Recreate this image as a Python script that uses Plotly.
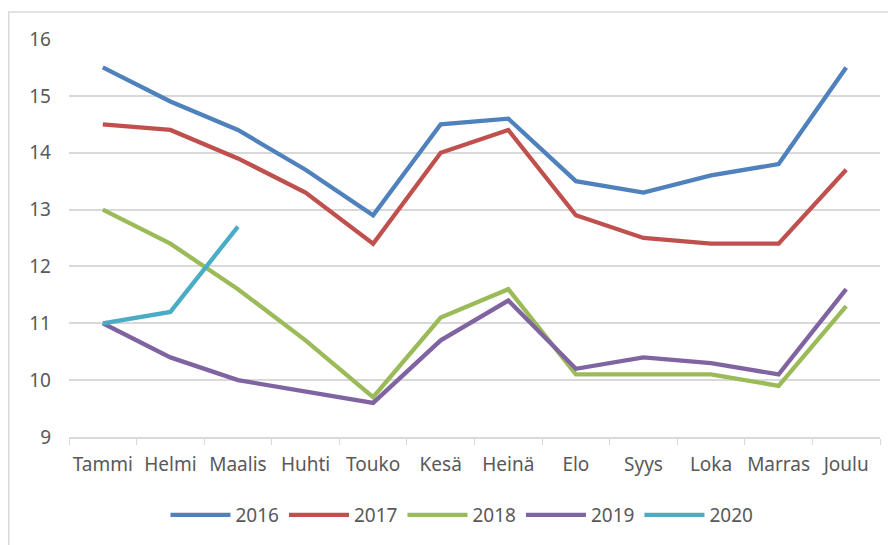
import plotly.graph_objects as go

months = ["Tammi", "Helmi", "Maalis", "Huhti", "Touko", "Kesä", "Heinä", "Elo", "Syys", "Loka", "Marras", "Joulu"]
y2016 = [15.5, 14.9, 14.4, 13.7, 12.9, 14.5, 14.6, 13.5, 13.3, 13.6, 13.8, 15.5]
y2017 = [14.5, 14.4, 13.9, 13.3, 12.4, 14.0, 14.4, 12.9, 12.5, 12.4, 12.4, 13.7]
y2018 = [13.0, 12.4, 11.6, 10.7, 9.7, 11.1, 11.6, 10.1, 10.1, 10.1, 9.9, 11.3]
y2019 = [11.0, 10.4, 10.0, 9.8, 9.6, 10.7, 11.4, 10.2, 10.4, 10.3, 10.1, 11.6]
y2020 = [11.0, 11.2, 12.7]

series = [
    ("2016", y2016, "#4F81BD"),
    ("2017", y2017, "#C0504D"),
    ("2018", y2018, "#9BBB59"),
    ("2019", y2019, "#8064A2"),
    ("2020", y2020, "#4BACC6"),
]

fig = go.Figure()
for name, vals, col in series:
    fig.add_trace(go.Scatter(
        x=months[:len(vals)], y=vals, name=name, mode="lines",
        line=dict(color=col, width=4.3),
    ))

W, H = 888, 537
L, T, R, B = 61, 31, 16, 108
pw = W - L - R
ph = H - T - B

fig.update_layout(
    width=W, height=H,
    margin=dict(l=L, r=R, t=T, b=B, autoexpand=False),
    paper_bgcolor="white", plot_bgcolor="white",
    font=dict(family="Noto Sans", size=19, color="#595959"),
    showlegend=True,
    legend=dict(orientation="h", x=(454 - L) / pw, xanchor="center",
                y=-78 / ph, yanchor="middle",
                font=dict(size=19, color="#595959"), itemwidth=60),
    xaxis=dict(
        type="category", categoryorder="array", categoryarray=months,
        range=[-0.5, 11.5], showgrid=False,
        showline=True, linecolor="#d9d9d9", linewidth=1.5,
        ticks="outside", tickson="boundaries", ticklen=6, tickcolor="#d9d9d9",
        tickfont=dict(size=19, color="#595959"), ticklabelstandoff=9,
        tickangle=0,
    ),
    yaxis=dict(
        range=[9, 16], dtick=1, showgrid=True, gridcolor="#d9d9d9", gridwidth=1.5,
        zeroline=False, showline=False, ticks="", ticklabelstandoff=17,
        tickfont=dict(size=19, color="#595959"),
    ),
)

fig.add_shape(type="rect", xref="paper", yref="paper",
              x0=(0.75 - L) / pw, x1=(920 - L) / pw,
              y0=-(560 - T - ph) / ph, y1=1 + (T - 4) / ph,
              line=dict(color="#d9d9d9", width=1.5), fillcolor="rgba(0,0,0,0)", layer="below")

fig.write_html("out.html")
